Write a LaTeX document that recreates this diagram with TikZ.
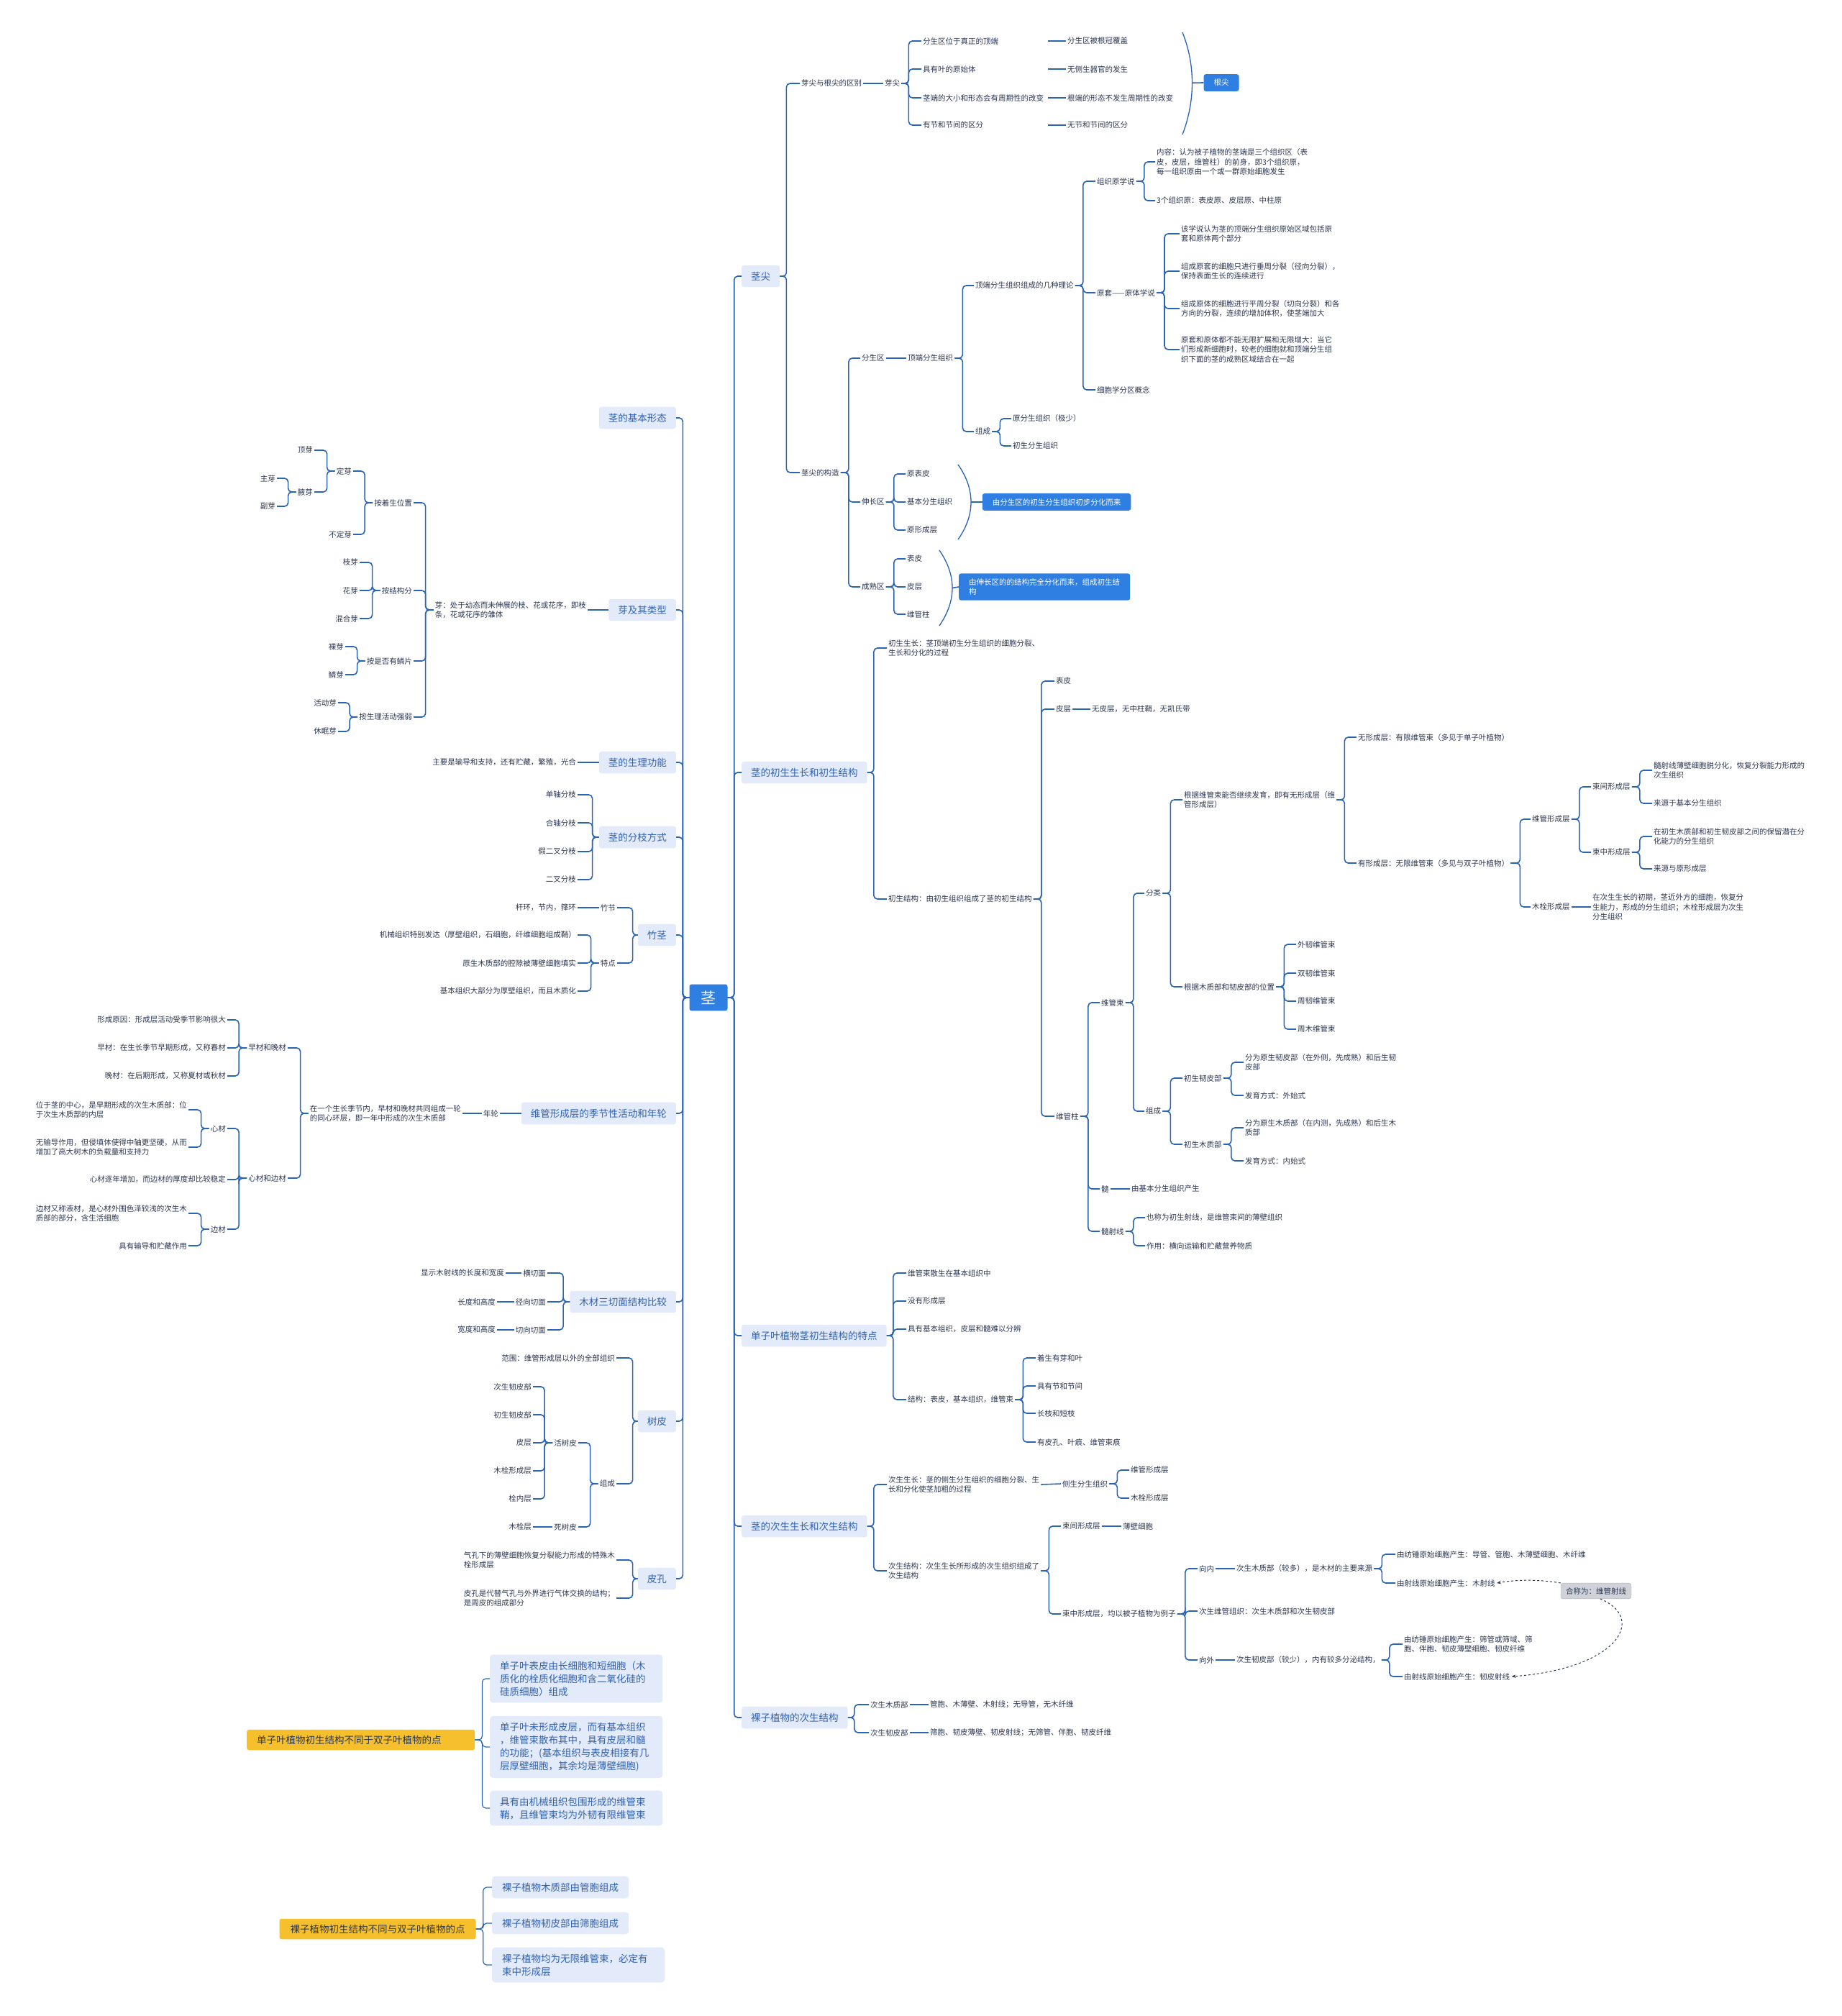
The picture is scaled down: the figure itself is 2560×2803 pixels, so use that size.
\documentclass[tikz,border=0pt]{standalone}
\usepackage{fontspec}
\setmainfont{Noto Sans CJK SC}
\usetikzlibrary{arrows.meta}
\definecolor{lnk}{HTML}{2A64B4}
\definecolor{ink}{HTML}{2B3650}
\definecolor{boxbg}{HTML}{E3EBFA}
\definecolor{boxtx}{HTML}{3061AE}
\definecolor{hiblue}{HTML}{2F7FE3}
\definecolor{amber}{HTML}{F6C02C}
\definecolor{greybox}{HTML}{CFD2D8}
\newcommand\fsm{\fontsize{10.5}{13.5}\selectfont}
\newcommand\fmd{\fontsize{13.5}{18}\selectfont}
\newcommand\fbg{\fontsize{21}{24}\selectfont}
\begin{document}
\begin{tikzpicture}[x=1pt,y=-1pt,
 every node/.style={inner sep=2pt,font=\fsm,text=ink,align=left},
 rt/.style={anchor=west},lt/.style={anchor=east},
 link/.style={draw=lnk,line width=1.6pt,rounded corners=5pt},
 thin link/.style={draw=lnk,line width=1.2pt,rounded corners=5pt},
 paren/.style={draw=lnk,line width=1.3pt},
 dlink/.style={draw=ink,dashed,line width=1pt,-{Stealth[length=6pt]}},
 hub/.style={fill=hiblue,text=white,font=\fbg,rounded corners=3pt,inner xsep=16pt,inner ysep=9pt},
 lvl/.style={fill=boxbg,text=boxtx,font=\fmd,rounded corners=3pt,inner xsep=13pt,inner ysep=9pt},
 hi/.style={fill=hiblue,text=white,rounded corners=3pt,inner xsep=14pt,inner ysep=7pt},
 note/.style={fill=boxbg,text=boxtx,font=\fmd,rounded corners=4pt,inner xsep=14pt,inner ysep=9pt},
 gold/.style={fill=amber,text=ink,font=\fmd,rounded corners=3pt,inner xsep=15pt,inner ysep=8pt},
 tag/.style={fill=greybox,draw=gray!60,rounded corners=3pt,inner xsep=7pt,inner ysep=6pt}]
\fill[white](0,0)rectangle(2560,2803);
\useasboundingbox(0,0)rectangle(2560,2803);

% centre and main branches
\node[hub](stem)at(985,1387){茎};
\node[lvl,rt](jj)at(1031,384){茎尖};
\node[lvl,rt](cs)at(1031,1074){茎的初生生长和初生结构};
\node[lvl,rt](dz)at(1031,1857){单子叶植物茎初生结构的特点};
\node[lvl,rt](ec)at(1031,2122){茎的次生生长和次生结构};
\node[lvl,rt](lz)at(1031,2388){裸子植物的次生结构};
\node[lvl,lt](xt)at(940,581){茎的基本形态};
\node[lvl,lt](ya)at(940,848){芽及其类型};
\node[lvl,lt](gn)at(940,1060){茎的生理功能};
\node[lvl,lt](fz)at(940,1164){茎的分枝方式};
\node[lvl,lt](zj)at(940,1300){竹茎};
\node[lvl,lt](nl)at(940,1548){维管形成层的季节性活动和年轮};
\node[lvl,lt](sq)at(940,1810){木材三切面结构比较};
\node[lvl,lt](sp)at(940,1976){树皮};
\node[lvl,lt](pk)at(940,2195){皮孔};
\foreach \c in{jj,cs,dz,ec,lz}
\draw[link](stem.east)--++(9,0)|-(\c.west);
\foreach \c in{xt,ya,gn,fz,zj,nl,sq,sp,pk}
\draw[link](stem.west)--++(-9,0)|-(\c.east);

% 茎尖
\node[rt](qb)at(1112,116){芽尖与根尖的区别};
\node[rt](yj)at(1228,116){芽尖};
\node[rt,text width=172pt](y1)at(1281,57){分生区位于真正的顶端};
\node[rt,text width=172pt](y2)at(1281,96){具有叶的原始体};
\node[rt,text width=172pt](y3)at(1281,136){茎端的大小和形态会有周期性的改变};
\node[rt,text width=172pt](y4)at(1281,174){有节和节间的区分};
\node[rt](g1)at(1482,57){分生区被根冠覆盖};
\node[rt](g2)at(1482,96){无侧生器官的发生};
\node[rt](g3)at(1482,136){根端的形态不发生周期性的改变};
\node[rt](g4)at(1482,174){无节和节间的区分};
\node[hi](gj)at(1698,115){根尖};
\draw[paren](1644,45)..controls(1662,90)and(1662,140)..(1644,187)coordinate[pos=.5](pm);
\draw[link](pm)--(gj.west);
\draw[link](qb.east)--(yj.west);
\foreach \c in{y1,y2,y3,y4}
\draw[link](yj.east)--++(10,0)|-(\c.west);
\foreach \i in{1,...,4}
\draw[link](y\i.east)--(g\i.west);

\node[rt](gz)at(1112,657){茎尖的构造};
\node[rt](fsq)at(1196,498){分生区};
\node[rt](ssq)at(1196,698){伸长区};
\node[rt](csq)at(1196,816){成熟区};
\node[rt](dd)at(1260,498){顶端分生组织};
\node[rt](ll)at(1354,397){顶端分生组织组成的几种理论};
\node[rt](zc)at(1354,600){组成};
\node[rt](zy)at(1523,252){组织原学说};
\node[rt](yt)at(1523,407){原套——原体学说};
\node[rt](xb)at(1523,542){细胞学分区概念};
\node[rt](nr)at(1606,225){内容：认为被子植物的茎端是三个组织区（表\\皮，皮层，维管柱）的前身，即3个组织原，\\每一组织原由一个或一群原始细胞发生};
\node[rt](zy3)at(1606,279){3个组织原：表皮原、皮层原、中柱原};
\node[rt](yt1)at(1640,325){该学说认为茎的顶端分生组织原始区域包括原\\套和原体两个部分};
\node[rt](yt2)at(1640,377){组成原套的细胞只进行垂周分裂（径向分裂），\\保持表面生长的连续进行};
\node[rt](yt3)at(1640,429){组成原体的细胞进行平周分裂（切向分裂）和各\\方向的分裂，连续的增加体积，使茎端加大};
\node[rt](yt4)at(1640,486){原套和原体都不能无限扩展和无限增大：当它\\们形成新细胞时，较老的细胞就和顶端分生组\\织下面的茎的成熟区域结合在一起};
\node[rt](zc1)at(1406,582){原分生组织（极少）};
\node[rt](zc2)at(1406,620){初生分生组织};
\node[rt](s1)at(1259,659){原表皮};
\node[rt](s2)at(1259,698){基本分生组织};
\node[rt](s3)at(1259,737){原形成层};
\node[rt](m1)at(1259,777){表皮};
\node[rt](m2)at(1259,816){皮层};
\node[rt](m3)at(1259,854){维管柱};
\node[hi](hs)at(1469,698){由分生区的初生分生组织初步分化而来};
\node[hi,rt](hm)at(1333,816){由伸长区的的结构完全分化而来，组成初生结\\构};
\draw[paren](1332,646)..controls(1356,680)and(1356,716)..(1332,750)coordinate[pos=.5](ps);
\draw[paren](1306,765)..controls(1330,800)and(1330,835)..(1306,870)coordinate[pos=.5](pc);
\draw[link](ps)--(hs.west);
\draw[link](pc)--(hm.west);
\foreach \c in{qb,gz}
\draw[link](jj.east)--++(9,0)|-(\c.west);
\foreach \c in{fsq,ssq,csq}
\draw[link](gz.east)--++(11,0)|-(\c.west);
\draw[link](fsq.east)--(dd.west);
\foreach \c in{ll,zc}
\draw[link](dd.east)--++(11,0)|-(\c.west);
\foreach \c in{zy,yt,xb}
\draw[link](ll.east)--++(11,0)|-(\c.west);
\foreach \c in{nr,zy3}
\draw[link](zy.east)--++(11,0)|-(\c.west);
\foreach \c in{yt1,yt2,yt3,yt4}
\draw[link](yt.east)--++(11,0)|-(\c.west);
\foreach \c in{zc1,zc2}
\draw[link](zc.east)--++(11,0)|-(\c.west);
\foreach \c in{s1,s2,s3}
\draw[link](ssq.east)--++(11,0)|-(\c.west);
\foreach \c in{m1,m2,m3}
\draw[link](csq.east)--++(11,0)|-(\c.west);

% 初生生长和初生结构
\node[rt](cz)at(1233,901){初生生长：茎顶端初生分生组织的细胞分裂、\\生长和分化的过程};
\node[rt](cj)at(1233,1250){初生结构：由初生组织组成了茎的初生结构};
\node[rt](bp)at(1466,947){表皮};
\node[rt](pc0)at(1466,986){皮层};
\node[rt](wz)at(1466,1552){维管柱};
\node[rt](pc1)at(1516,986){无皮层，无中柱鞘，无凯氏带};
\node[rt](wgs)at(1529,1394){维管束};
\node[rt](sui)at(1529,1653){髓};
\node[rt](ssx)at(1529,1712){髓射线};
\node[rt](fl)at(1591,1242){分类};
\node[rt](zc3)at(1591,1545){组成};
\node[rt](fl1)at(1644,1112){根据维管束能否继续发育，即有无形成层（维\\管形成层）};
\node[rt](fl2)at(1644,1372){根据木质部和韧皮部的位置};
\node[rt](wx)at(1886,1025){无形成层：有限维管束（多见于单子叶植物）};
\node[rt](yx)at(1886,1200){有形成层：无限维管束（多见与双子叶植物）};
\node[rt](wxc)at(2128,1139){维管形成层};
\node[rt](mxc)at(2128,1261){木栓形成层};
\node[rt](mx1)at(2212,1261){在次生生长的初期，茎近外方的细胞，恢复分\\生能力，形成的分生组织；木栓形成层为次生\\分生组织};
\node[rt](sj)at(2212,1094){束间形成层};
\node[rt](sz)at(2212,1185){束中形成层};
\node[rt](sj1)at(2297,1071){髓射线薄壁细胞脱分化，恢复分裂能力形成的\\次生组织};
\node[rt](sj2)at(2297,1117){来源于基本分生组织};
\node[rt](sz1)at(2297,1163){在初生木质部和初生韧皮部之间的保留潜在分\\化能力的分生组织};
\node[rt](sz2)at(2297,1208){来源与原形成层};
\node[rt](w1)at(1802,1313){外韧维管束};
\node[rt](w2)at(1802,1353){双韧维管束};
\node[rt](w3)at(1802,1392){周韧维管束};
\node[rt](w4)at(1802,1431){周木维管束};
\node[rt](rp)at(1644,1499){初生韧皮部};
\node[rt](rm)at(1644,1591){初生木质部};
\node[rt](rp1)at(1729,1477){分为原生韧皮部（在外侧，先成熟）和后生韧\\皮部};
\node[rt](rp2)at(1729,1523){发育方式：外始式};
\node[rt](rm1)at(1729,1568){分为原生木质部（在内测，先成熟）和后生木\\质部};
\node[rt](rm2)at(1729,1614){发育方式：内始式};
\node[rt](sui1)at(1571,1653){由基本分生组织产生};
\node[rt](sx1)at(1592,1693){也称为初生射线，是维管束间的薄壁组织};
\node[rt](sx2)at(1592,1732){作用：横向运输和贮藏营养物质};
\foreach \c in{cz,cj}
\draw[link](cs.east)--++(9,0)|-(\c.west);
\foreach \c in{bp,pc0,wz}
\draw[link](cj.east)--++(11,0)|-(\c.west);
\draw[link](pc0.east)--(pc1.west);
\foreach \c in{wgs,sui,ssx}
\draw[link](wz.east)--++(11,0)|-(\c.west);
\foreach \c in{fl,zc3}
\draw[link](wgs.east)--++(11,0)|-(\c.west);
\foreach \c in{fl1,fl2}
\draw[link](fl.east)--++(11,0)|-(\c.west);
\foreach \c in{wx,yx}
\draw[link](fl1.east)--++(11,0)|-(\c.west);
\foreach \c in{wxc,mxc}
\draw[link](yx.east)--++(13,0)|-(\c.west);
\draw[link](mxc.east)--(mx1.west);
\foreach \c in{sj,sz}
\draw[link](wxc.east)--++(11,0)|-(\c.west);
\foreach \c in{sj1,sj2}
\draw[link](sj.east)--++(11,0)|-(\c.west);
\foreach \c in{sz1,sz2}
\draw[link](sz.east)--++(11,0)|-(\c.west);
\foreach \c in{w1,w2,w3,w4}
\draw[link](fl2.east)--++(11,0)|-(\c.west);
\foreach \c in{rp,rm}
\draw[link](zc3.east)--++(11,0)|-(\c.west);
\foreach \c in{rp1,rp2}
\draw[link](rp.east)--++(11,0)|-(\c.west);
\foreach \c in{rm1,rm2}
\draw[link](rm.east)--++(11,0)|-(\c.west);
\draw[link](sui.east)--(sui1.west);
\foreach \c in{sx1,sx2}
\draw[link](ssx.east)--++(11,0)|-(\c.west);

% 单子叶植物茎
\node[rt](d1)at(1260,1770){维管束散生在基本组织中};
\node[rt](d2)at(1260,1809){没有形成层};
\node[rt](d3)at(1260,1848){具有基本组织，皮层和髓难以分辨};
\node[rt](d4)at(1260,1946){结构：表皮，基本组织，维管束};
\node[rt](e1)at(1440,1888){着生有芽和叶};
\node[rt](e2)at(1440,1927){具有节和节间};
\node[rt](e3)at(1440,1965){长枝和短枝};
\node[rt](e4)at(1440,2005){有皮孔、叶痕、维管束痕};
\foreach \c in{d1,d2,d3,d4}
\draw[link](dz.east)--++(9,0)|-(\c.west);
\foreach \c in{e1,e2,e3,e4}
\draw[link](d4.east)--++(11,0)|-(\c.west);

% 次生生长和次生结构
\node[rt](c1)at(1233,2064){次生生长：茎的侧生分生组织的细胞分裂、生\\长和分化使茎加粗的过程};
\node[rt](c2)at(1233,2184){次生结构：次生生长所形成的次生组织组成了\\次生结构};
\node[rt](cf)at(1475,2063){侧生分生组织};
\node[rt](cf1)at(1570,2044){维管形成层};
\node[rt](cf2)at(1570,2083){木栓形成层};
\node[rt](sj3)at(1475,2122){束间形成层};
\node[rt](bb)at(1559,2122){薄壁细胞};
\node[rt](sz3)at(1475,2244){束中形成层，均以被子植物为例子};
\node[rt](xn)at(1665,2181){向内};
\node[rt](cw)at(1665,2240){次生维管组织：次生木质部和次生韧皮部};
\node[rt](xw)at(1665,2308){向外};
\node[rt](mz)at(1717,2181){次生木质部（较多），是木材的主要来源};
\node[rt](rz)at(1717,2308){次生韧皮部（较少），内有较多分泌结构，};
\node[rt](mz1)at(1940,2161){由纺锤原始细胞产生：导管、管胞、木薄壁细胞、木纤维};
\node[rt](mz2)at(1940,2201){由射线原始细胞产生：木射线};
\node[rt](rz1)at(1950,2286){由纺锤原始细胞产生：筛管或筛域、筛\\胞、伴胞、韧皮薄壁细胞、韧皮纤维};
\node[rt](rz2)at(1950,2331){由射线原始细胞产生：韧皮射线};
\node[tag](hc)at(2219,2212){合称为：维管射线};
\foreach \c in{c1,c2}
\draw[link](ec.east)--++(9,0)|-(\c.west);
\draw[link](c1.east)--(cf.west);
\foreach \c in{cf1,cf2}
\draw[link](cf.east)--++(11,0)|-(\c.west);
\foreach \c in{sj3,sz3}
\draw[link](c2.east)--++(11,0)|-(\c.west);
\draw[link](sj3.east)--(bb.west);
\foreach \c in{xn,cw,xw}
\draw[link](sz3.east)--++(11,0)|-(\c.west);
\draw[link](xn.east)--(mz.west);
\draw[link](xw.east)--(rz.west);
\foreach \c in{mz1,mz2}
\draw[link](mz.east)--++(11,0)|-(\c.west);
\foreach \c in{rz1,rz2}
\draw[link](rz.east)--++(11,0)|-(\c.west);
\draw[dlink](hc.north west)..controls(2140,2196)and(2110,2196)..(mz2.east);
\draw[dlink](hc.-62)..controls(2290,2250)and(2250,2320)..(rz2.east);

% 裸子植物
\node[rt](lz1)at(1208,2370){次生木质部};
\node[rt](lz2)at(1208,2409){次生韧皮部};
\node[rt](lz3)at(1291,2370){管胞、木薄壁、木射线；无导管，无木纤维};
\node[rt](lz4)at(1291,2409){筛胞、韧皮薄壁、韧皮射线；无筛管、伴胞、韧皮纤维};
\foreach \c in{lz1,lz2}
\draw[link](lz.east)--++(9,0)|-(\c.west);
\draw[link](lz1.east)--(lz3.west);
\draw[link](lz2.east)--(lz4.west);

% 芽及其类型
\node[lt](yd)at(817,848){芽：处于幼态而未伸展的枝、花或花序，即枝\\条，花或花序的雏体};
\node[lt](a1)at(575,699){按着生位置};
\node[lt](a2)at(575,821){按结构分};
\node[lt](a3)at(575,919){按是否有鳞片};
\node[lt](a4)at(575,997){按生理活动强弱};
\node[lt](dy)at(491,655){定芽};
\node[lt](bdy)at(491,743){不定芽};
\node[lt](dya)at(437,626){顶芽};
\node[lt](yy)at(437,684){腋芽};
\node[lt](zhuy)at(385,665){主芽};
\node[lt](fuy)at(385,704){副芽};
\node[lt](zhy)at(500,782){枝芽};
\node[lt](hy)at(500,821){花芽};
\node[lt](hhy)at(500,860){混合芽};
\node[lt](ly)at(480,899){裸芽};
\node[lt](liny)at(480,938){鳞芽};
\node[lt](hdy)at(470,977){活动芽};
\node[lt](xmy)at(470,1017){休眠芽};
\draw[link](ya.west)--(yd.east);
\foreach \c in{a1,a2,a3,a4}
\draw[link](yd.west)--++(-11,0)|-(\c.east);
\foreach \c in{dy,bdy}
\draw[link](a1.west)--++(-11,0)|-(\c.east);
\foreach \c in{dya,yy}
\draw[link](dy.west)--++(-11,0)|-(\c.east);
\foreach \c in{zhuy,fuy}
\draw[link](yy.west)--++(-11,0)|-(\c.east);
\foreach \c in{zhy,hy,hhy}
\draw[link](a2.west)--++(-11,0)|-(\c.east);
\foreach \c in{ly,liny}
\draw[link](a3.west)--++(-11,0)|-(\c.east);
\foreach \c in{hdy,xmy}
\draw[link](a4.west)--++(-11,0)|-(\c.east);

% 生理功能, 分枝, 竹茎
\node[lt](gn1)at(803,1060){主要是输导和支持，还有贮藏，繁殖，光合};
\draw[link](gn.west)--(gn1.east);
\node[lt](f1)at(803,1105){单轴分枝};
\node[lt](f2)at(803,1144){合轴分枝};
\node[lt](f3)at(803,1184){假二叉分枝};
\node[lt](f4)at(803,1223){二叉分枝};
\foreach \c in{f1,f2,f3,f4}
\draw[link](fz.west)--++(-9,0)|-(\c.east);
\node[lt](zjj)at(858,1262){竹节};
\node[lt](td)at(858,1339){特点};
\node[lt](zjj1)at(803,1262){杆环，节内，箨环};
\node[lt](td1)at(803,1300){机械组织特别发达（厚壁组织，石细胞，纤维细胞组成鞘）};
\node[lt](td2)at(803,1339){原生木质部的腔隙被薄壁细胞填实};
\node[lt](td3)at(803,1378){基本组织大部分为厚壁组织，而且木质化};
\foreach \c in{zjj,td}
\draw[link](zj.west)--++(-7,0)|-(\c.east);
\draw[link](zjj.west)--(zjj1.east);
\foreach \c in{td1,td2,td3}
\draw[link](td.west)--++(-11,0)|-(\c.east);

% 年轮
\node[lt](nl1)at(695,1548){年轮};
\node[lt](nl2)at(643,1548){在一个生长季节内，早材和晚材共同组成一轮\\的同心环层，即一年中形成的次生木质部};
\node[lt](zw)at(400,1457){早材和晚材};
\node[lt](xbc)at(400,1638){心材和边材};
\node[lt](zw1)at(316,1418){形成原因：形成层活动受季节影响很大};
\node[lt](zw2)at(316,1457){早材：在生长季节早期形成，又称春材};
\node[lt](zw3)at(316,1496){晚材：在后期形成，又称夏材或秋材};
\node[lt](xc)at(316,1569){心材};
\node[lt](xc0)at(316,1640){心材逐年增加，而边材的厚度却比较稳定};
\node[lt](bc)at(316,1709){边材};
\node[lt](xc1)at(262,1543){位于茎的中心，是早期形成的次生木质部：位\\于次生木质部的内层};
\node[lt](xc2)at(262,1595){无输导作用，但侵填体使得中轴更坚硬，从而\\增加了高大树木的负载量和支持力};
\node[lt](bc1)at(262,1687){边材又称液材，是心材外围色泽较浅的次生木\\质部的部分，含生活细胞};
\node[lt](bc2)at(262,1732){具有输导和贮藏作用};
\draw[link](nl.west)--(nl1.east);
\draw[link](nl1.west)--(nl2.east);
\foreach \c in{zw,xbc}
\draw[link](nl2.west)--++(-11,0)|-(\c.east);
\foreach \c in{zw1,zw2,zw3}
\draw[link](zw.west)--++(-11,0)|-(\c.east);
\foreach \c in{xc,xc0,bc}
\draw[link](xbc.west)--++(-11,0)|-(\c.east);
\foreach \c in{xc1,xc2}
\draw[link](xc.west)--++(-11,0)|-(\c.east);
\foreach \c in{bc1,bc2}
\draw[link](bc.west)--++(-11,0)|-(\c.east);

% 木材三切面, 树皮, 皮孔
\node[lt](hq)at(761,1770){横切面};
\node[lt](jq)at(761,1810){径向切面};
\node[lt](qq)at(761,1849){切向切面};
\node[lt](hq1)at(703,1770){显示木射线的长度和宽度};
\node[lt](jq1)at(691,1810){长度和高度};
\node[lt](qq1)at(691,1849){宽度和高度};
\foreach \c in{hq,jq,qq}
\draw[link](sq.west)--++(-9,0)|-(\c.east);
\draw[link](hq.west)--(hq1.east);
\draw[link](jq.west)--(jq1.east);
\draw[link](qq.west)--(qq1.east);
\node[lt](fw)at(857,1888){范围：维管形成层以外的全部组织};
\node[lt](zc4)at(857,2063){组成};
\node[lt](hsp)at(804,2006){活树皮};
\node[lt](ssp)at(804,2123){死树皮};
\node[lt](h1)at(741,1928){次生韧皮部};
\node[lt](h2)at(741,1967){初生韧皮部};
\node[lt](h3)at(741,2006){皮层};
\node[lt](h4)at(741,2045){木栓形成层};
\node[lt](h5)at(741,2084){栓内层};
\node[lt](ms)at(741,2123){木栓层};
\foreach \c in{fw,zc4}
\draw[link](sp.west)--++(-7,0)|-(\c.east);
\foreach \c in{hsp,ssp}
\draw[link](zc4.west)--++(-11,0)|-(\c.east);
\foreach \c in{h1,h2,h3,h4,h5}
\draw[link](hsp.west)--++(-11,0)|-(\c.east);
\draw[link](ssp.west)--(ms.east);
\node[lt](pk1)at(857,2169){气孔下的薄壁细胞恢复分裂能力形成的特殊木\\栓形成层};
\node[lt](pk2)at(857,2222){皮孔是代替气孔与外界进行气体交换的结构；\\是周皮的组成部分};
\foreach \c in{pk1,pk2}
\draw[link](pk.west)--++(-7,0)|-(\c.east);

% floating notes
\node[gold,rt,text width=289pt,inner xsep=14pt](dzy)at(343,2419){单子叶植物初生结构不同于双子叶植物的点};
\node[note,rt,text width=212pt](b1)at(681,2334){单子叶表皮由长细胞和短细胞（木\\质化的栓质化细胞和含二氧化硅的\\硅质细胞）组成};
\node[note,rt,text width=212pt](b2)at(681,2429){单子叶未形成皮层，而有基本组织\\，维管束散布其中，具有皮层和髓\\的功能；(基本组织与表皮相接有几\\层厚壁细胞，其余均是薄壁细胞)};
\node[note,rt,text width=212pt](b3)at(681,2514){具有由机械组织包围形成的维管束\\鞘，且维管束均为外韧有限维管束};
\foreach \c in{b1,b2,b3}
\draw[thin link](dzy.east)--++(10,0)|-(\c.west);
\node[gold](lzy)at(525,2682){裸子植物初生结构不同与双子叶植物的点};
\node[note,rt](n1)at(684,2624){裸子植物木质部由管胞组成};
\node[note,rt](n2)at(684,2674){裸子植物韧皮部由筛胞组成};
\node[note,rt,text width=212pt](n3)at(684,2732){裸子植物均为无限维管束，必定有\\束中形成层};
\foreach \c in{n1,n2,n3}
\draw[thin link](lzy.east)--++(10,0)|-(\c.west);
\end{tikzpicture}
\end{document}
